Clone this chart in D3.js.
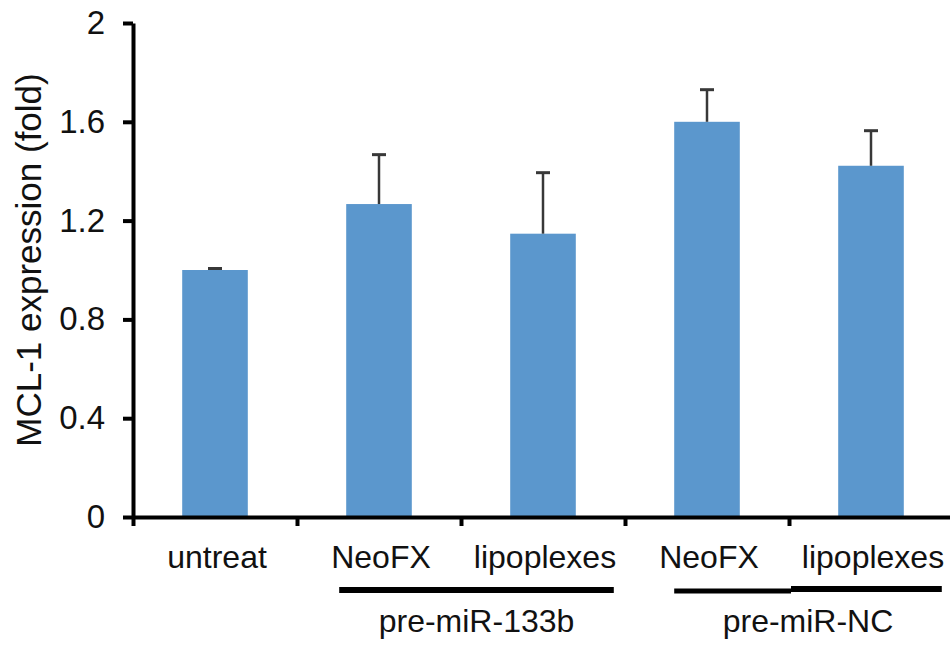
<!DOCTYPE html>
<html>
<head>
<meta charset="utf-8">
<script src="https://cdn.jsdelivr.net/npm/d3@7"></script>
<style>
  html, body { margin: 0; padding: 0; background: #fff; }
  svg { display: block; }
  text { font-family: "Liberation Sans", Arial, sans-serif; fill: #111; }
</style>
</head>
<body>
<svg id="chart" width="950" height="653"></svg>
<script>
// ---- data ----
const ids = ["untreat", "neofx133b", "lipo133b", "neofxNC", "lipoNC"];
const categoryLabels = ["untreat", "NeoFX", "lipoplexes", "NeoFX", "lipoplexes"];
const values = [1.0, 1.267, 1.147, 1.600, 1.422];
const errors = [0.006, 0.200, 0.247, 0.130, 0.142];
const yTicks = [0, 0.4, 0.8, 1.2, 1.6, 2];
const yTickLabels = ["0", "0.4", "0.8", "1.2", "1.6", "2"];
const groups = [
  { label: "pre-miR-133b", members: ["neofx133b", "lipo133b"] },
  { label: "pre-miR-NC", members: ["neofxNC", "lipoNC"] }
];
const yTitle = "MCL-1 expression (fold)";

// ---- layout ----
const svg = d3.select("#chart");
const x0 = 133, slot = 164;
const x = d3.scaleBand().domain(ids)
  .range([x0, x0 + slot * ids.length])
  .paddingInner(0.6).paddingOuter(0.3);
const y = d3.scaleLinear().domain([0, 2]).range([517, 23]);
const xb = d3.scaleLinear().domain([0, ids.length]).range([x0, x0 + slot * ids.length]);

// bars
svg.append("g").selectAll("rect").data(ids).join("rect")
  .attr("x", d => x(d))
  .attr("width", x.bandwidth())
  .attr("y", (d, i) => y(values[i]))
  .attr("height", (d, i) => y(0) - y(values[i]))
  .attr("fill", "#5b97cd");

// error bars
const eb = svg.append("g").attr("stroke", "#383838");
ids.forEach((d, i) => {
  const cx = x(d) + x.bandwidth() / 2;
  eb.append("line").attr("x1", cx).attr("x2", cx)
    .attr("y1", y(values[i])).attr("y2", y(values[i] + errors[i]))
    .attr("stroke-width", 2.5);
  eb.append("line").attr("x1", cx - 7).attr("x2", cx + 7)
    .attr("y1", y(values[i] + errors[i])).attr("y2", y(values[i] + errors[i]))
    .attr("stroke-width", 3);
});

// y axis
const yAxis = svg.append("g").attr("transform", `translate(${x0},0)`)
  .call(d3.axisLeft(y).tickValues(yTicks)
    .tickFormat((d, i) => yTickLabels[i]).tickSize(10).tickSizeOuter(0).tickPadding(18));
yAxis.select(".domain").attr("stroke", "#000").attr("stroke-width", 4);
yAxis.selectAll(".tick line").attr("stroke", "#000").attr("stroke-width", 4);
yAxis.selectAll(".tick text").style("font-size", "33px")
  .style("font-family", '"Liberation Sans", Arial, sans-serif').attr("fill", "#111");

// x axis
const xAxis = svg.append("g").attr("transform", `translate(0,${y(0)})`)
  .call(d3.axisBottom(xb).tickValues(d3.range(0, ids.length + 1)).tickFormat("")
    .tickSize(9).tickSizeOuter(0));
xAxis.select(".domain").attr("stroke", "#000").attr("stroke-width", 4);
xAxis.selectAll(".tick line").attr("stroke", "#000").attr("stroke-width", 4);

// category labels
svg.append("g").selectAll("text").data(ids).join("text")
  .attr("x", d => x(d) + x.bandwidth() / 2 + 2)
  .attr("y", 568)
  .attr("text-anchor", "middle")
  .style("font-size", "32px")
  .text((d, i) => categoryLabels[i]);

// group underline + labels
groups.forEach((g, gi) => {
  const a = x(g.members[0]);
  const b = x(g.members[g.members.length - 1]) + x.bandwidth();
  const left = a - 7, right = b + 38;
  let cx = (left + right) / 2;
  if (gi === 0) {
    svg.append("line").attr("x1", left).attr("x2", right)
      .attr("y1", 590).attr("y2", 590).attr("stroke", "#000").attr("stroke-width", 6);
  } else {
    const mid = (a + b) / 2 + 2;
    svg.append("line").attr("x1", a).attr("x2", mid)
      .attr("y1", 591).attr("y2", 591).attr("stroke", "#000").attr("stroke-width", 5);
    svg.append("line").attr("x1", mid).attr("x2", right)
      .attr("y1", 589).attr("y2", 589).attr("stroke", "#000").attr("stroke-width", 6);
    cx = (a + right) / 2;
  }
  svg.append("text")
    .attr("x", cx)
    .attr("y", 632)
    .attr("text-anchor", "middle")
    .style("font-size", "32px")
    .text(g.label);
});

// y title
svg.append("text")
  .attr("transform", `translate(41,260) rotate(-90)`)
  .attr("text-anchor", "middle")
  .style("font-size", "35px")
  .text(yTitle);
</script>
</body>
</html>
